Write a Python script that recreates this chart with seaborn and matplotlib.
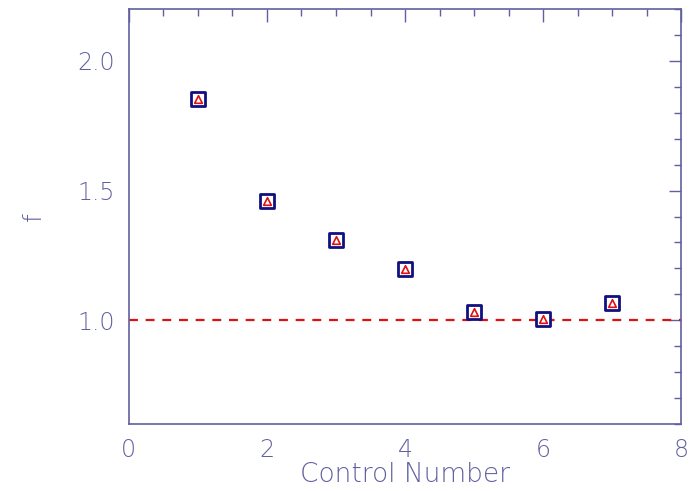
import matplotlib
matplotlib.use("Agg")
import matplotlib.pyplot as plt
import seaborn as sns
import pandas as pd
from matplotlib.ticker import MultipleLocator

control = [1, 2, 3, 4, 5, 6, 7]
f_vals = [1.853, 1.458, 1.309, 1.196, 1.033, 1.007, 1.067]

df = pd.DataFrame({"control": control, "f": f_vals})

sns.set_style("white")
plt.rcParams["font.family"] = ["DejaVu Sans"]
axcol = "#6060a0"

fig = plt.figure(figsize=(6.93, 4.91), dpi=100)
ax = fig.add_axes([0.186, 0.136, 0.797, 0.846])

ax.axhline(1.0, color="#dd1111", ls=(0, (4, 3.5)), lw=1.6, zorder=1)
sns.scatterplot(data=df, x="control", y="f", marker="s", s=95, color="white",
                edgecolor="#101080", linewidth=2.0, ax=ax, zorder=3)
sns.scatterplot(data=df, x="control", y="f", marker="^", s=30, color="white",
                edgecolor="#dd1111", linewidth=1.2, ax=ax, zorder=4)

ax.set_xlim(0, 8)
ax.set_ylim(0.6, 2.2)
ax.xaxis.set_major_locator(MultipleLocator(2))
ax.xaxis.set_minor_locator(MultipleLocator(0.5))
ax.yaxis.set_minor_locator(MultipleLocator(0.1))
ax.set_yticks([1.0, 1.5, 2.0])
ax.set_yticklabels(["1.0", "1.5", "2.0"])

for s in ax.spines.values():
    s.set_color(axcol)
    s.set_linewidth(1.2)
ax.tick_params(which="both", direction="in", colors=axcol, labelcolor=axcol,
               top=True, right=True, labelsize=17)
ax.tick_params(which="major", length=9, width=1)
ax.tick_params(which="minor", length=5, width=1)
ax.tick_params(axis="x", pad=10)
ax.tick_params(axis="y", pad=10)

ax.set_xlabel("Control Number", color=axcol, fontsize=19, labelpad=0,
              fontweight="light")
ax.set_ylabel("f", color=axcol, fontsize=18, fontweight="light")
ax.yaxis.set_label_coords(-0.15, 0.5)
for lab in ax.get_xticklabels() + ax.get_yticklabels():
    lab.set_fontweight("light")

fig.savefig("out.png", dpi=100)
